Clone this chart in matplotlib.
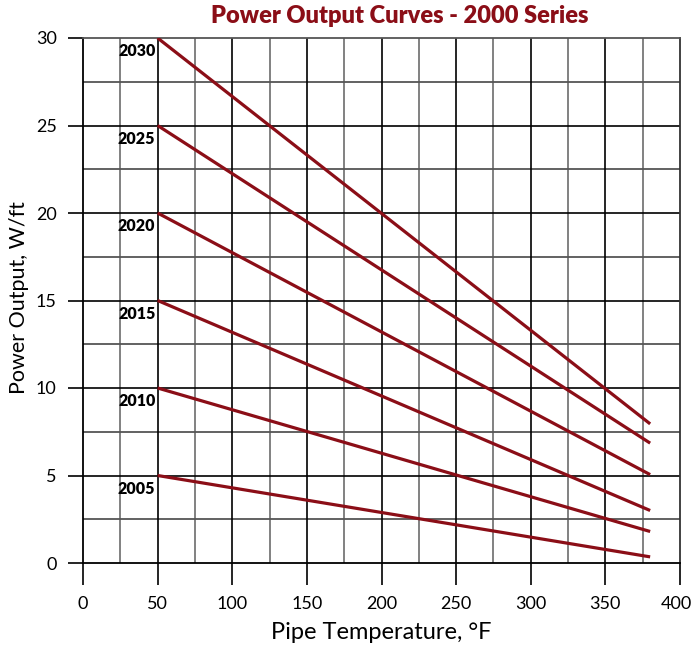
import matplotlib
matplotlib.use("Agg")
import matplotlib.pyplot as plt
import matplotlib.transforms as mtransforms
import numpy as np

plt.rcParams['font.family'] = ['Lato', 'DejaVu Sans']

series = ["2030", "2025", "2020", "2015", "2010", "2005"]
x_start = [50, 50, 50, 50, 50, 50]
x_end = [380, 380, 380, 380, 380, 380]
y_start = [30, 25, 20, 15, 10, 5]
y_end = [7.95, 6.85, 5.05, 3.0, 1.8, 0.35]

x_ticks = [0, 50, 100, 150, 200, 250, 300, 350, 400]
y_ticks = [0, 5, 10, 15, 20, 25, 30]

line_color = "#8B0E17"

fig = plt.figure(figsize=(6.93, 6.5), dpi=100)
ax = fig.add_axes([83/693, 1-563/650, (680-83)/693, (563-38)/650])

ax.set_xlim(0, 400)
ax.set_ylim(0, 30)

# grid
for xv in np.arange(25, 400, 50):
    ax.axvline(xv, color="#777777", lw=1.3, zorder=1)
for yv in np.arange(2.5, 30, 5):
    ax.axhline(yv, color="#555555", lw=1.3, zorder=1)
for xv in x_ticks[1:-1]:
    ax.axvline(xv, color="black", lw=1.2, zorder=1)
for yv in y_ticks[1:-1]:
    ax.axhline(yv, color="black", lw=1.2, zorder=1)

for s, x0, x1, y0, y1 in zip(series, x_start, x_end, y_start, y_end):
    ax.plot([x0, x1], [y0, y1], color=line_color, lw=2.3, solid_capstyle='butt', zorder=3)
    ax.text(x0 - 1.5, y0 - 0.75, s, ha='right', va='center', fontsize=11.5,
            fontweight='heavy', color='black', zorder=4)

ax.set_xticks(x_ticks)
ax.set_yticks(y_ticks)
ax.tick_params(axis='x', length=16, width=1.2, pad=8, labelsize=13)
ax.tick_params(axis='y', length=11, width=1.2, pad=8, labelsize=13)
for sp in ['left', 'bottom']:
    ax.spines[sp].set_linewidth(1.3)
    ax.spines[sp].set_color('black')
ax.spines['top'].set_color('#555555')
ax.spines['top'].set_linewidth(1.3)
ax.spines['right'].set_color('#333333')
ax.spines['right'].set_linewidth(1.3)

# keep the last x tick label inside the figure
last_lbl = ax.xaxis.get_major_ticks()[-1].label1
last_lbl.set_horizontalalignment('right')
last_lbl.set_transform(last_lbl.get_transform() +
                       mtransforms.ScaledTranslation(12/100, 0, fig.dpi_scale_trans))

ax.set_xlabel("Pipe Temperature, °F", fontsize=17)
ax.xaxis.set_label_coords(0.5, (563-622)/525)
ax.set_ylabel("Power Output, W/ft", fontsize=15.5)
ax.yaxis.set_label_coords((29-83)/597, 0.505)

fig.text(400/693, 1-16/650, "Power Output Curves - 2000 Series", ha='center', va='center',
         fontsize=17, fontweight='heavy', color=line_color)

fig.savefig("out.png", dpi=100)
